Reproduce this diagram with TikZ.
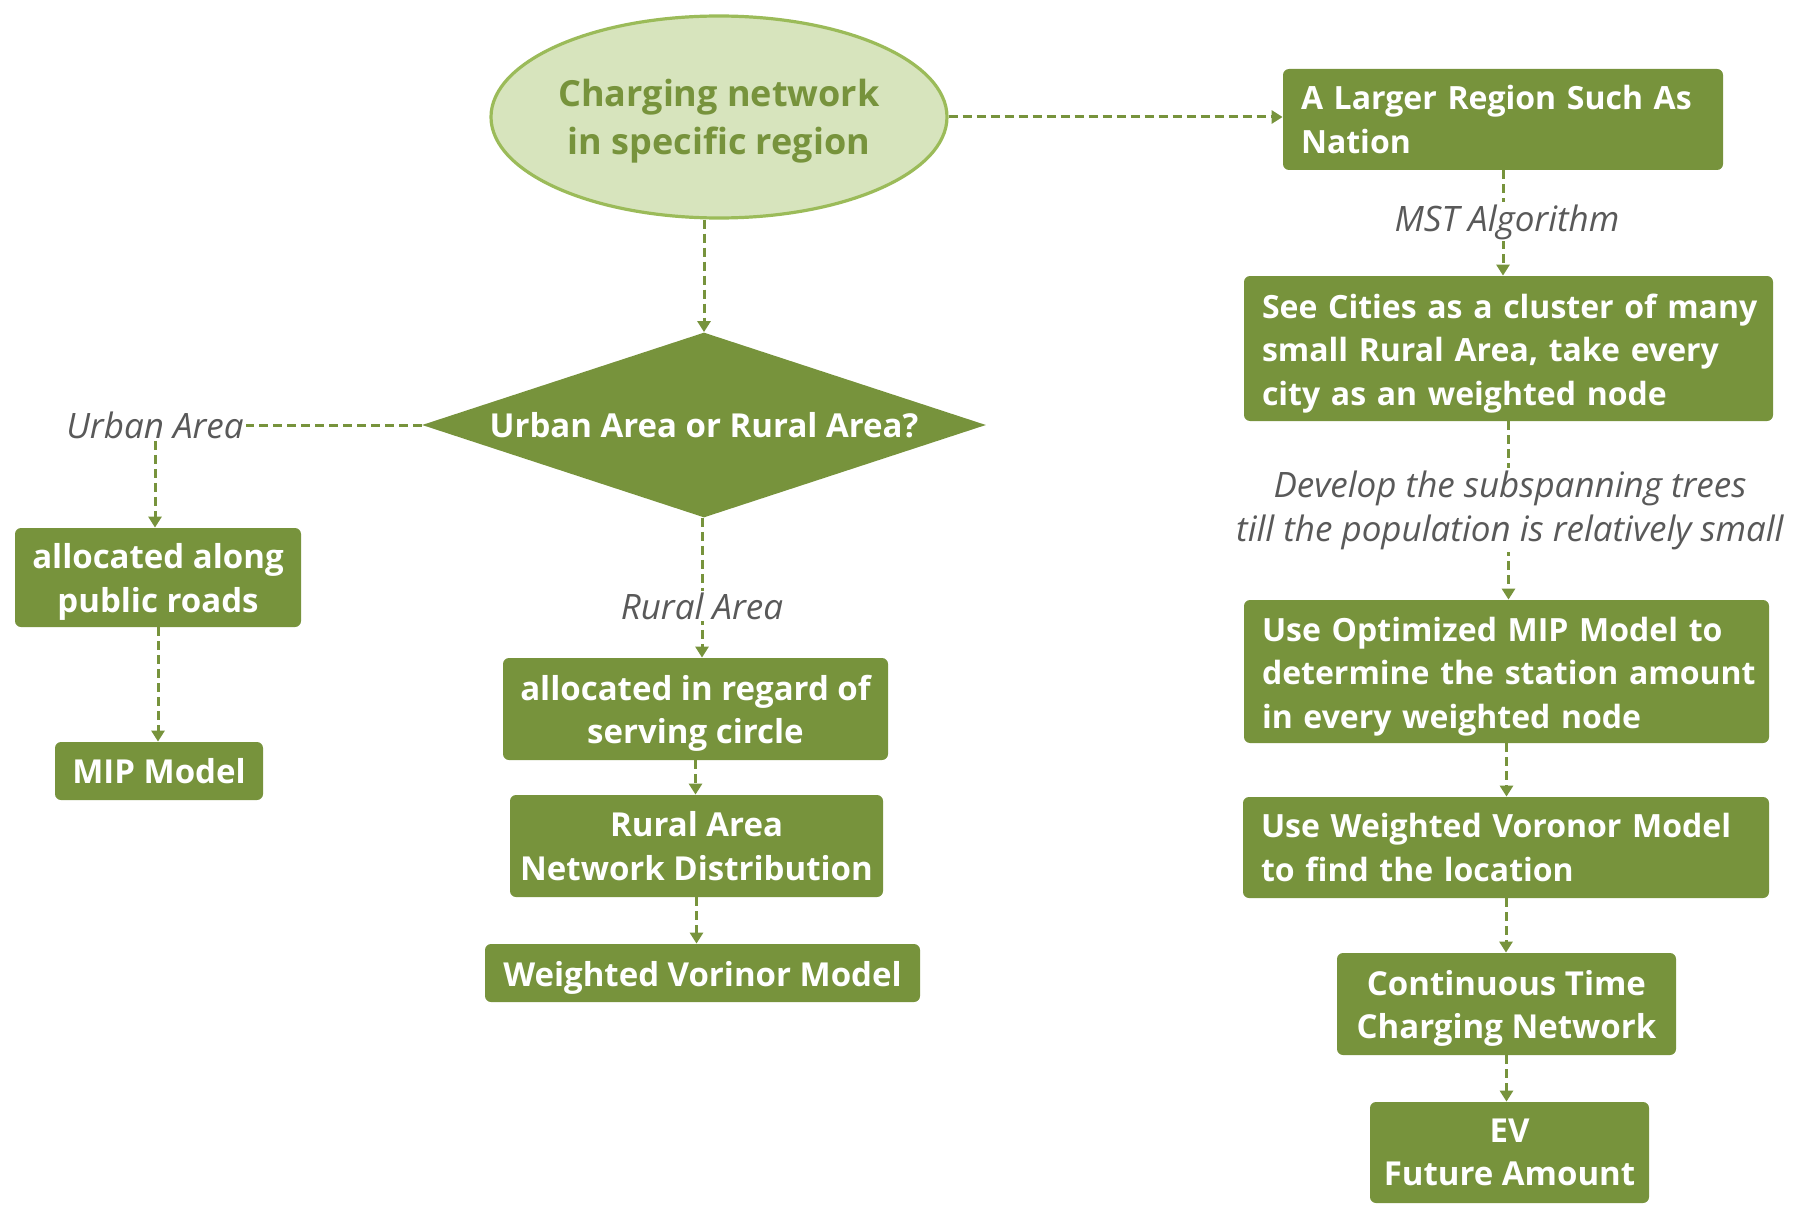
\documentclass[tikz,border=0pt]{standalone}
\usepackage{fontspec}
\setmainfont{Open Sans}
\usetikzlibrary{shapes.geometric,arrows.meta,backgrounds}
\definecolor{olive}{HTML}{77933C}
\definecolor{ellfill}{HTML}{D7E4BD}
\definecolor{elldraw}{HTML}{9BBB59}
\definecolor{labgray}{HTML}{595959}
\newcommand\dnstrut{\rule{0pt}{17pt}}
\tikzset{
  box/.style={fill=olive, draw=none, rounded corners=3pt, text=white,
    font=\bfseries\fontsize{16.5}{21.8}\selectfont, inner sep=0pt, align=center},
  lbox/.style={box, align=left, inner xsep=9pt, font=\bfseries\fontsize{16}{21.8}\selectfont},
  conn/.style={draw=olive, line width=1.5pt, dash pattern=on 4.5pt off 2.5pt},
  arr/.style={conn, -{Triangle[width=6.5pt,length=5.5pt]}},
  lab/.style={font=\itshape\fontsize{17.5}{22}\selectfont, text=labgray, fill=white, inner sep=1pt, align=center}
}
\begin{document}
\begin{tikzpicture}[x=0.5pt,y=-0.5pt]
\useasboundingbox (0,0) rectangle (1796,1220);
% top ellipse and diamond
\node[ellipse, fill=ellfill, draw=elldraw, line width=1.6pt, minimum width=228pt, minimum height=101pt,
  inner sep=0pt, text=olive, align=center, font=\bfseries\fontsize{18}{24}\selectfont] (ell) at (719,117)
  {\rule{0pt}{17.5pt}Charging network\\ in specific region};
\node[diamond, fill=olive, aspect=3.05, minimum width=282pt, minimum height=92.5pt, inner sep=0pt,
  text=white, font=\bfseries\fontsize{16.5}{21.8}\selectfont] (dia) at (704,425) {Urban Area or Rural Area?};
% left branch
\node[lab] (ulab) at (155,425) {Urban Area};
\node[box, minimum width=143pt, minimum height=49.5pt] (along) at (158,577.5) {\dnstrut allocated along\\ public roads};
\node[box, minimum width=104pt, minimum height=29pt] (mip) at (159,771) {MIP Model};
% middle branch
\node[lab] (rlab) at (702,606) {Rural Area};
\node[box, minimum width=192.5pt, minimum height=51pt] (regard) at (695.5,709) {\dnstrut allocated in regard of\\ serving circle};
\node[box, minimum width=186.5pt, minimum height=51pt] (rnet) at (696.5,846) {Rural Area\\ Network Distribution};
\node[box, minimum width=217.5pt, minimum height=29pt] (wv) at (702.5,973) {\dnstrut Weighted Vorinor Model};
% right branch
\node[lbox, text width=202pt, minimum height=50.5pt] (large) at (1503,119.5)
  {\mbox{A Larger Region Such As}\\ Nation};
\node[lab] (mst) at (1507,222) {MST Algorithm};
\node[lbox, text width=246.5pt, minimum height=72.5pt] (cities) at (1508.5,348.5)
  {\mbox{\dnstrut See Cities as a cluster of many}\\ \mbox{small Rural Area, take every}\\ \mbox{city as an weighted node}};
\node[lab] (dev) at (1510,510) {Develop the subspanning trees\\ till the population is relatively small};
\node[lbox, text width=244.5pt, minimum height=71.5pt] (mip2) at (1506.5,671.5)
  {\mbox{\dnstrut Use Optimized MIP Model to}\\ \mbox{determine the station amount}\\ \mbox{in every weighted node}};
\node[lbox, text width=245pt, minimum height=50.5pt] (vor2) at (1506,847.5)
  {\mbox{Use Weighted Voronor Model}\\ \mbox{to find the location}};
\node[box, minimum width=169.5pt, minimum height=51pt] (cont) at (1506.5,1004) {\dnstrut Continuous Time\\ Charging Network};
\node[box, minimum width=139.5pt, minimum height=50.5pt] (ev) at (1509.5,1152.5) {EV\\ Future Amount};
% connectors
\begin{scope}[on background layer]
\draw[arr] (ell.east) -- (ell.east -| large.west);
\draw[arr] (dia.north |- ell.south) -- (dia.north);
\draw[conn] (dia.west) -- (ulab.east);
\draw[arr] (ulab.south) -- (ulab.south |- along.north);
\draw[arr] (along.south) -- (along.south |- mip.north);
\draw[arr] (rlab.north |- dia.south) -- (rlab.north |- regard.north);
\draw[arr] (regard.south) -- (regard.south |- rnet.north);
\draw[arr] (rnet.south) -- (rnet.south |- wv.north);
\draw[arr] (large.south) -- (large.south |- cities.north);
\draw[arr] (cities.south) -- (cities.south |- mip2.north);
\draw[arr] (mip2.south) -- (mip2.south |- vor2.north);
\draw[arr] (vor2.south) -- (vor2.south |- cont.north);
\draw[arr] (cont.south) -- (cont.south |- ev.north);
\end{scope}
\end{tikzpicture}
\end{document}
